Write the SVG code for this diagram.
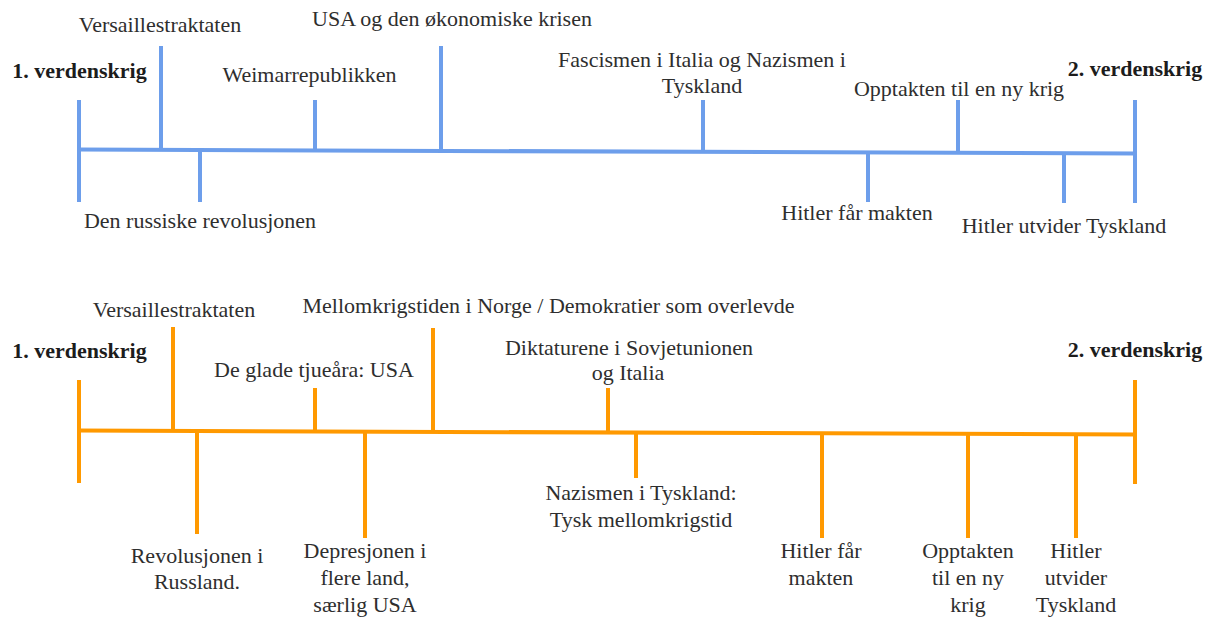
<svg xmlns="http://www.w3.org/2000/svg" width="1214" height="619" viewBox="0 0 1214 619">
  <style>
    .bg { fill: #ffffff; }
    .blue { stroke: #6d9eeb; stroke-width: 4; fill: none; }
    .orange { stroke: #ff9900; stroke-width: 4; fill: none; }
    text { font-family: "Liberation Serif", "Times New Roman", serif; font-size: 22px; fill: #2e2e2e; text-anchor: middle; }
    text.bold { font-weight: bold; fill: #1c1c1c; }
  </style>
  <rect class="bg" x="0" y="0" width="1214" height="619"/>

  <!-- Timeline axes -->
  <g id="connectors">
    <line class="blue" x1="79" y1="149.5" x2="1135" y2="153.5"/>
    <line class="orange" x1="79" y1="430.5" x2="1135" y2="434.5"/>
  </g>

  <!-- Upper timeline -->
  <g id="top-start">
    <line class="blue" x1="79" y1="100" x2="79" y2="202"/>
    <text class="bold" x="79.5" y="78">1. verdenskrig</text>
  </g>
  <g id="top-versailles">
    <line class="blue" x1="161" y1="46" x2="161" y2="150"/>
    <text x="160" y="32">Versaillestraktaten</text>
  </g>
  <g id="top-russian-revolution">
    <line class="blue" x1="200" y1="150" x2="200" y2="202"/>
    <text x="200" y="228">Den russiske revolusjonen</text>
  </g>
  <g id="top-weimar">
    <line class="blue" x1="315" y1="100" x2="315" y2="151"/>
    <text x="309.5" y="82">Weimarrepublikken</text>
  </g>
  <g id="top-usa-crisis">
    <line class="blue" x1="441" y1="46" x2="441" y2="151"/>
    <text x="452" y="26">USA og den økonomiske krisen</text>
  </g>
  <g id="top-fascism">
    <line class="blue" x1="703" y1="100" x2="703" y2="152"/>
    <text x="702" y="67">Fascismen i Italia og Nazismen i</text>
    <text x="702" y="93">Tyskland</text>
  </g>
  <g id="top-hitler-power">
    <line class="blue" x1="868" y1="152" x2="868" y2="202"/>
    <text x="857" y="220">Hitler får makten</text>
  </g>
  <g id="top-prelude">
    <line class="blue" x1="958" y1="100" x2="958" y2="153"/>
    <text x="959" y="96">Opptakten til en ny krig</text>
  </g>
  <g id="top-hitler-expands">
    <line class="blue" x1="1064" y1="153" x2="1064" y2="203"/>
    <text x="1064" y="233">Hitler utvider Tyskland</text>
  </g>
  <g id="top-end">
    <line class="blue" x1="1135" y1="100" x2="1135" y2="203"/>
    <text class="bold" x="1135" y="76">2. verdenskrig</text>
  </g>

  <!-- Lower timeline -->
  <g id="bottom-start">
    <line class="orange" x1="79" y1="380" x2="79" y2="483"/>
    <text class="bold" x="79.5" y="358">1. verdenskrig</text>
  </g>
  <g id="bottom-versailles">
    <line class="orange" x1="173" y1="327" x2="173" y2="431"/>
    <text x="174" y="317">Versaillestraktaten</text>
  </g>
  <g id="bottom-revolution">
    <line class="orange" x1="197" y1="431" x2="197" y2="534"/>
    <text x="197" y="563">Revolusjonen i</text>
    <text x="197" y="589">Russland.</text>
  </g>
  <g id="bottom-twenties">
    <line class="orange" x1="315" y1="388" x2="315" y2="432"/>
    <text x="314" y="377">De glade tjueåra: USA</text>
  </g>
  <g id="bottom-depression">
    <line class="orange" x1="365" y1="432" x2="365" y2="538"/>
    <text x="365" y="558">Depresjonen i</text>
    <text x="365" y="585">flere land,</text>
    <text x="365" y="612">særlig USA</text>
  </g>
  <g id="bottom-norway">
    <line class="orange" x1="433" y1="328" x2="433" y2="432"/>
    <text x="548.5" y="313">Mellomkrigstiden i Norge / Demokratier som overlevde</text>
  </g>
  <g id="bottom-dictatorships">
    <line class="orange" x1="608" y1="388" x2="608" y2="433"/>
    <text x="629" y="355">Diktaturene i Sovjetunionen</text>
    <text x="628" y="380">og Italia</text>
  </g>
  <g id="bottom-nazism">
    <line class="orange" x1="636" y1="433" x2="636" y2="478"/>
    <text x="641" y="500">Nazismen i Tyskland:</text>
    <text x="641" y="527">Tysk mellomkrigstid</text>
  </g>
  <g id="bottom-hitler-power">
    <line class="orange" x1="822" y1="433" x2="822" y2="538"/>
    <text x="821" y="558">Hitler får</text>
    <text x="821" y="585">makten</text>
  </g>
  <g id="bottom-prelude">
    <line class="orange" x1="968" y1="434" x2="968" y2="538"/>
    <text x="968" y="558">Opptakten</text>
    <text x="968" y="585">til en ny</text>
    <text x="968" y="612">krig</text>
  </g>
  <g id="bottom-hitler-expands">
    <line class="orange" x1="1076" y1="434" x2="1076" y2="538"/>
    <text x="1076" y="558">Hitler</text>
    <text x="1076" y="585">utvider</text>
    <text x="1076" y="612">Tyskland</text>
  </g>
  <g id="bottom-end">
    <line class="orange" x1="1135" y1="380" x2="1135" y2="484"/>
    <text class="bold" x="1135" y="357">2. verdenskrig</text>
  </g>
</svg>
